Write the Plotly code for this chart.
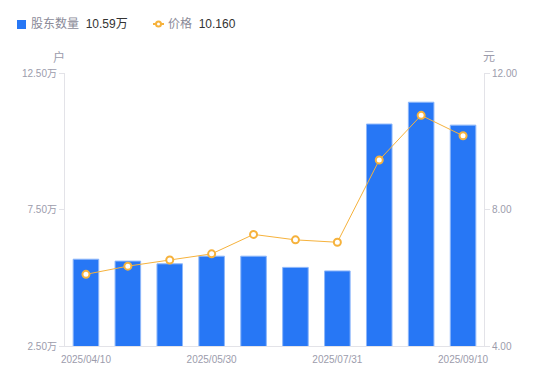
import plotly.graph_objects as go

dates = ["2025/04/10", "2025/04/18", "2025/04/30", "2025/05/30", "2025/06/10",
         "2025/06/30", "2025/07/31", "2025/08/10", "2025/08/29", "2025/09/10"]
holders = [5.68, 5.61, 5.51, 5.79, 5.79, 5.38, 5.25, 10.63, 11.43, 10.59]  # 万户
price = [6.10, 6.34, 6.52, 6.70, 7.27, 7.11, 7.04, 9.45, 10.76, 10.16]
shown_dates = ["2025/04/10", "2025/05/30", "2025/07/31", "2025/09/10"]
left_ticks = [2.5, 7.5, 12.5]
right_ticks = [4.0, 8.0, 12.0]

W, H = 550, 381
PL, PR, PT, PB = 65, 484, 73, 346          # plot box in pixels
L, T = PL, PT
PW, PH = PR - PL, PB - PT
R = W - L - PW
B = H - T - PH

def px(x):
    return (x - PL) / PW

def py(y):
    return (PB - y) / PH

BLUE = "#2777f5"
ORANGE = "#f6b23c"
GREY = "#9c9cac"
FONT = "Liberation Sans, Noto Sans CJK SC, sans-serif"

fig = go.Figure()
fig.add_trace(go.Bar(
    x=dates, y=holders, name="股东数量",
    marker=dict(color=BLUE, line=dict(color="#8db7fa", width=1)),
    yaxis="y",
))
fig.add_trace(go.Scatter(
    x=dates, y=price, name="价格", mode="lines+markers",
    line=dict(color=ORANGE, width=1),
    marker=dict(symbol="circle", size=7, color="white", line=dict(color=ORANGE, width=2)),
    yaxis="y2",
))

fig.update_layout(
    width=W, height=H,
    margin=dict(l=L, r=R, t=T, b=B, autoexpand=False),
    plot_bgcolor="white", paper_bgcolor="white",
    showlegend=False,
    bargap=0.39,
    font=dict(family=FONT, size=10, color=GREY),
    xaxis=dict(
        type="category", tickmode="array", tickvals=shown_dates, ticktext=shown_dates,
        range=[-0.5, len(dates) - 0.5],
        showgrid=False, showline=True, linecolor="#e3e3e8", linewidth=1,
        ticks="", tickfont=dict(size=10, color=GREY), zeroline=False,
        automargin=False, ticklabelstandoff=4,
    ),
    yaxis=dict(
        range=[2.5, 12.5], tickmode="array", tickvals=left_ticks,
        ticktext=[f"{v:.2f}万" for v in left_ticks],
        showgrid=False, showline=True, linecolor="#e3e3e8", linewidth=1,
        ticks="outside", ticklen=5, tickcolor="#e3e3e8",
        tickfont=dict(size=10, color=GREY), zeroline=False, automargin=False,
    ),
    yaxis2=dict(
        range=[4, 12], overlaying="y", side="right", tickmode="array",
        tickvals=right_ticks, ticktext=[f"{v:.2f}" for v in right_ticks],
        showgrid=False, showline=True, linecolor="#e3e3e8", linewidth=1,
        ticks="outside", ticklen=5, tickcolor="#e3e3e8",
        tickfont=dict(size=10, color=GREY), zeroline=False, automargin=False,
    ),
)

# axis unit titles
fig.add_annotation(text="户", xref="paper", yref="paper", x=px(59), y=py(57),
                   showarrow=False, xanchor="center", yanchor="middle",
                   font=dict(size=12, color=GREY))
fig.add_annotation(text="元", xref="paper", yref="paper", x=px(489), y=py(57),
                   showarrow=False, xanchor="center", yanchor="middle",
                   font=dict(size=12, color=GREY))

# custom legend
fig.add_shape(type="rect", xref="paper", yref="paper",
              x0=px(17), x1=px(26), y0=py(20), y1=py(29),
              fillcolor=BLUE, line=dict(width=0))
fig.add_annotation(
    text=f"股东数量  <span style='color:#333'>{holders[-1]:.2f}万</span>",
    xref="paper", yref="paper", x=px(29), y=py(24), showarrow=False,
    xanchor="left", yanchor="middle", font=dict(size=12, color="#8a8a98"))
fig.add_shape(type="line", xref="paper", yref="paper",
              x0=px(153), x1=px(164), y0=py(24), y1=py(24),
              line=dict(color=ORANGE, width=2))
fig.add_shape(type="circle", xref="paper", yref="paper",
              x0=px(156), x1=px(161), y0=py(21.5), y1=py(26.5),
              fillcolor="white", line=dict(color=ORANGE, width=2))
fig.add_annotation(
    text=f"价格  <span style='color:#333'>{price[-1]:.3f}</span>",
    xref="paper", yref="paper", x=px(166), y=py(24), showarrow=False,
    xanchor="left", yanchor="middle", font=dict(size=12, color="#8a8a98"))

fig.write_html("out.html", config={"displayModeBar": False},
               post_script="document.body.style.margin='0px';")
